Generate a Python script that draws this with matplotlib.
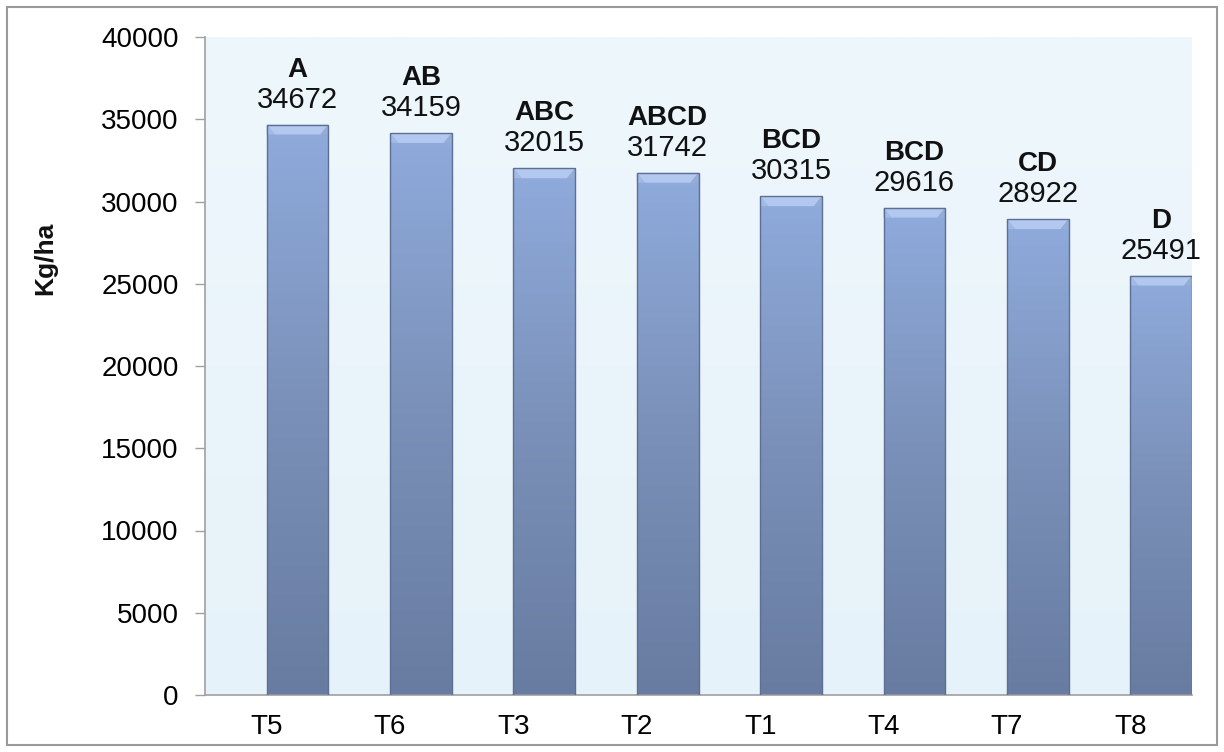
import numpy as np
import matplotlib
matplotlib.use("Agg")
import matplotlib.pyplot as plt
from matplotlib.patches import Rectangle, Polygon
from matplotlib.colors import LinearSegmentedColormap

categories = ["T5", "T6", "T3", "T2", "T1", "T4", "T7", "T8"]
values = [34672, 34159, 32015, 31742, 30315, 29616, 28922, 25491]
letters = ["A", "AB", "ABC", "ABCD", "BCD", "BCD", "CD", "D"]
yticks = [0, 5000, 10000, 15000, 20000, 25000, 30000, 35000, 40000]
ylabel = "Kg/ha"

plt.rcParams['font.family'] = ['Liberation Sans', 'DejaVu Sans']

fig = plt.figure(figsize=(12.24, 7.52), dpi=100)
fig.patches.append(Rectangle((7/1224, 7/752), 1210/1224, 738/752, transform=fig.transFigure,
                             fill=False, edgecolor="#9a9a9a", linewidth=1.5))
ax = fig.add_axes([205/1224, 57/752, 987/1224, 658/752])

x = np.arange(len(categories))
ax.set_xlim(-0.5, len(categories) - 0.5)
ax.set_ylim(0, 40000)

# background gradient
bg = LinearSegmentedColormap.from_list("bg", ["#e6f2f9", "#eef7fc"])
ax.imshow(np.linspace(0, 1, 256).reshape(-1, 1), aspect="auto", cmap=bg,
          extent=(-0.5, len(categories) - 0.5, 0, 40000), origin="lower", zorder=0)

width = 0.5
cmap = LinearSegmentedColormap.from_list("bar", ["#687ca1", "#7a90b8", "#8fabdc"])
bars = ax.bar(x, values, width=width, align="edge", facecolor="none",
              edgecolor="#5d6f92", linewidth=1.0, zorder=3)
for b, v in zip(bars, values):
    x0 = b.get_x()
    x1 = x0 + b.get_width()
    im = ax.imshow(np.linspace(0, 1, 256).reshape(-1, 1), aspect="auto", cmap=cmap,
                   extent=(x0, x1, 0, v), origin="lower", zorder=2)
    im.set_clip_path(b)
    # top bevel
    dx = 0.065
    dy = 600
    ax.add_patch(Polygon([(x0, v), (x1, v), (x1 - dx, v - dy), (x0 + dx, v - dy)],
                         closed=True, facecolor="#b2c8ee", edgecolor="none", zorder=2.5))
    ax.add_patch(Polygon([(x0, v), (x0 + dx, v - dy), (x0, v - dy)],
                         closed=True, facecolor="#a2bae4", edgecolor="none", zorder=2.5))
    ax.add_patch(Polygon([(x1, v), (x1 - dx, v - dy), (x1, v - dy)],
                         closed=True, facecolor="#94acd6", edgecolor="none", zorder=2.5))

for b, v, l in zip(bars, values, letters):
    xc = b.get_x() + b.get_width() / 2
    ax.text(xc, v + 1520, f"{v}", ha="center", va="center", fontsize=21, color="#111111", zorder=4)
    ax.text(xc, v + 3350, l, ha="center", va="center", fontsize=20, fontweight="bold", color="#111111", zorder=4)

ax.set_xticks(x)
ax.set_xticklabels(categories, fontsize=20)
ax.set_yticks(yticks)
ax.set_yticklabels([str(t) for t in yticks], fontsize=20)
ax.tick_params(axis="x", length=0, pad=14)
ax.tick_params(axis="y", length=7, width=1, color="#a0a0a0", pad=12)

for s in ["top", "right"]:
    ax.spines[s].set_visible(False)
for s in ["left", "bottom"]:
    ax.spines[s].set_color("#a0a0a0")
    ax.spines[s].set_linewidth(1.2)

fig.text(45/1224, 1 - 258/752, ylabel, rotation=90, ha="center", va="center",
         fontsize=19, fontweight="bold", color="#111111")

fig.savefig("out.png", dpi=100)
